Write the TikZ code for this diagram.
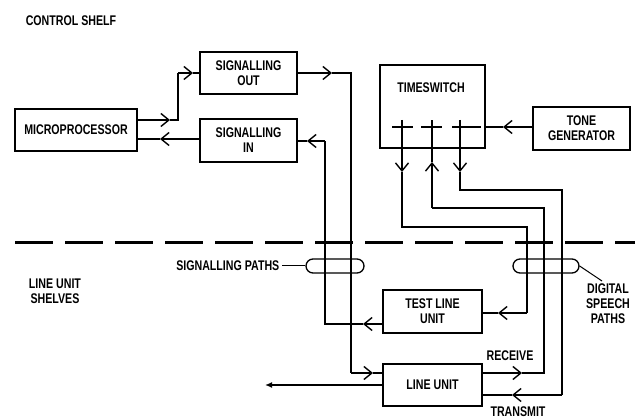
\documentclass[tikz,border=0pt]{standalone}
\usepackage{fontspec}
\newfontfamily\cf[FakeStretch=0.76]{Liberation Sans}
\usetikzlibrary{arrows.meta}
\begin{document}
\begin{tikzpicture}[x=1pt,y=-1pt,
  line width=1.4pt,
  lbl/.style={font=\cf\bfseries\fontsize{14}{15}\selectfont, inner sep=0pt, align=center},
  box/.style={draw, line width=1.5pt, inner sep=0pt, align=center, font=\cf\bfseries\fontsize{14}{15}\selectfont},
  arr/.style={-{Straight Barb[length=8pt,width=13pt,line width=1.4pt]}},
  stad/.style={draw, line width=1.3pt, rounded corners=7pt, minimum height=14pt, inner sep=0pt},
  shelfline/.style={line width=3pt, dash pattern=on 38pt off 12pt}
]
\useasboundingbox (0,0) rectangle (635,419);

% labels
\node[lbl] (cs) at (71,21) {CONTROL SHELF};
\node[lbl] (lus) at (55,291) {LINE UNIT\\SHELVES};

% boxes
\node[box, minimum width=122pt, minimum height=42pt] (mp) at (76,130) {MICROPROCESSOR};
\node[box, minimum width=97pt, minimum height=42pt] (so) at (248.5,73) {SIGNALLING\\OUT};
\node[box, minimum width=97pt, minimum height=43pt] (si) at (248.5,140.5) {SIGNALLING\\IN};
\node[box, minimum width=105pt, minimum height=83pt] (ts) at (432.5,106.5) {};
\node[lbl] (tst) at (431,88) {TIMESWITCH};
\node[box, minimum width=97pt, minimum height=43pt] (tg) at (581.5,128.5) {TONE\\GENERATOR};
\node[box, minimum width=99pt, minimum height=43pt] (tlu) at (432.5,311.5) {TEST LINE\\UNIT};
\node[box, minimum width=99pt, minimum height=42pt] (lu) at (432.5,385) {LINE UNIT};

% shelf boundary
\coordinate (d1) at (15,243);
\coordinate (d2) at (635,243);
\draw[shelfline] (d1) -- (d2);

% timeswitch internal crossings
\coordinate (t1) at (402,120);
\coordinate (t2) at (432,120);
\coordinate (t3) at (460,120);
\draw (392,127) -- (413,127);
\draw (421,127) -- (442,127);
\draw (452,127) -- (481,127);

% microprocessor <-> signalling
\draw[arr] (mp.east |- 0,120) -- (170,120);
\draw (170,120) -- (178,120) -- (178,73);
\draw[arr] (178,73) -- (193,73);
\draw (193,73) -- (so.west);
\draw[arr] (si.west |- 0,139) -- (160,139);
\draw (160,139) -- (mp.east |- 0,139);

% signalling out -> line unit
\draw[arr] (so.east) -- (332,73);
\draw (332,73) -- (351,73) -- (351,373);
\draw[arr] (351,373) -- (373,373);
\draw (373,373) -- (lu.west |- 0,373);

% test line unit -> signalling in
\draw[arr] (tlu.west |- 0,324) -- (363,324);
\draw (363,324) -- (325,324) -- (325,141);
\draw[arr] (325,141) -- (307,141);
\draw (307,141) -- (si.east |- 0,141);

% tone generator -> timeswitch
\draw[arr] (tg.west |- 0,127) -- (503,127);
\draw (503,127) -- (ts.east |- 0,127);

% timeswitch -> test line unit
\draw[arr] (t1) -- (402,172);
\draw (402,172) -- (402,227) -- (527,227) -- (527,313);
\draw[arr] (527,313) -- (498,313);
\draw (498,313) -- (tlu.east |- 0,313);

% line unit receive -> timeswitch
\draw[arr] (lu.east |- 0,373) -- (522,373);
\draw (522,373) -- (544,373) -- (544,208) -- (432,208);
\draw[arr] (432,208) -- (432,162);
\draw (432,162) -- (t2);

% timeswitch -> line unit transmit
\draw[arr] (t3) -- (460,172);
\draw (460,172) -- (460,190) -- (562,190) -- (562,395);
\draw[arr] (562,395) -- (512,395);
\draw (512,395) -- (lu.east |- 0,395);

% line unit external
\draw[-{Latex[length=7pt,width=6pt]}] (lu.west) -- (265,385);

\node[lbl] (rx) at (510,356) {RECEIVE};
\node[lbl] (tx) at (518,412) {TRANSMIT};

% path groupings
\node[stad, minimum width=58pt] (sp) at (335,266) {};
\node[lbl, anchor=east] (spt) at (280,266) {SIGNALLING PATHS};
\draw[line width=1pt] (spt.east) ++(2,0) coordinate (spl) (spl) -- (sp.west);

\node[stad, minimum width=66pt] (dsp) at (546,266) {};
\node[lbl] (dspt) at (608,304) {DIGITAL\\SPEECH\\PATHS};
\coordinate (dspl) at (602,281);
\draw[line width=1pt] (dsp.east) -- (dspl);
\end{tikzpicture}
\end{document}
